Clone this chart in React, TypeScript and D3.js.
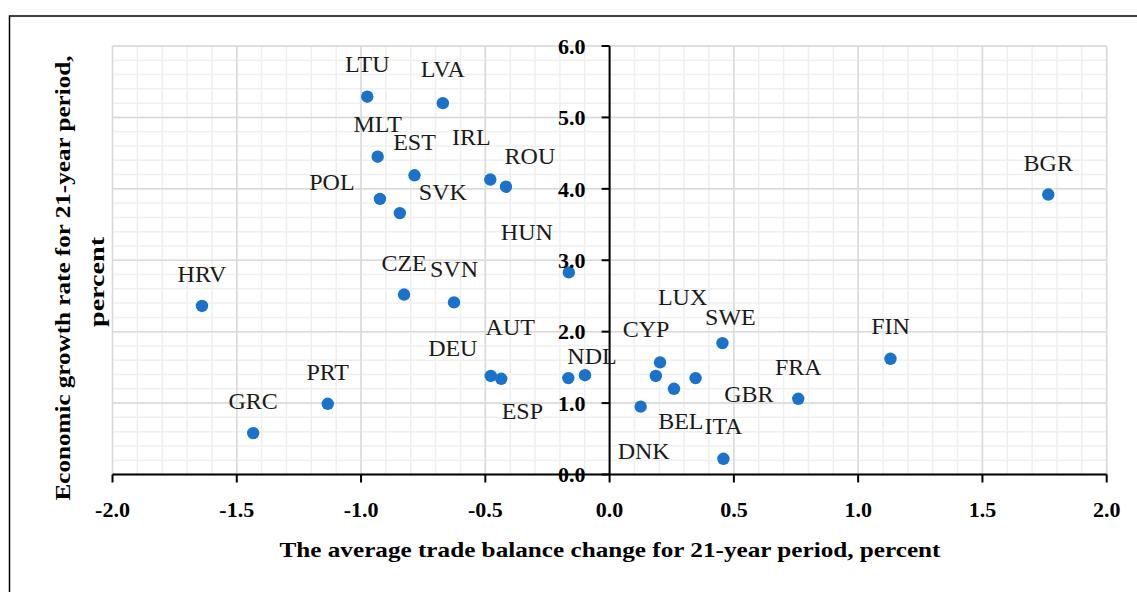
import React from "react";
import * as d3 from "d3";

const countries = ["LTU","LVA","MLT","EST","IRL","ROU","POL","SVK","HUN","CZE","SVN","HRV","BGR","AUT","DEU","NDL","ESP","CYP","LUX","SWE","FIN","FRA","GBR","BEL","ITA","DNK","PRT","GRC"];
const tradeBalanceChange = [-0.975,-0.671,-0.933,-0.785,-0.480,-0.417,-0.924,-0.844,-0.164,-0.827,-0.626,-1.640,1.765,-0.436,-0.478,-0.099,-0.166,0.203,0.346,0.454,1.130,0.759,0.259,0.186,0.458,0.125,-1.134,-1.434];
const growthRate = [5.29,5.20,4.45,4.19,4.13,4.03,3.86,3.66,2.83,2.52,2.41,2.36,3.92,1.34,1.38,1.39,1.35,1.57,1.35,1.84,1.62,1.06,1.20,1.38,0.22,0.95,0.99,0.58];

const xTickValues = [-2.0,-1.5,-1.0,-0.5,0.0,0.5,1.0,1.5,2.0];
const yTickValues = [0,1,2,3,4,5,6];

const xTitle = "The average trade balance change for 21-year period, percent";
const yTitleLines = ["Economic growth rate for 21-year period,", "percent"];

// label placement offsets (pixels, relative to point) — layout only
const labelOffsets: Record<string, [number, number]> = {
  LTU:[0,-25], LVA:[0,-26], MLT:[0,-25], EST:[0,-25], IRL:[-19,-35], ROU:[24,-23],
  POL:[-48,-9], SVK:[43,-13], HUN:[-42,-32], CZE:[0,-24], SVN:[0,-25], HRV:[0,-24],
  BGR:[0,-24], AUT:[9,-44], DEU:[-38,-20], NDL:[7,-11], ESP:[-46,41], CYP:[-14,-25],
  LUX:[-13,-73], SWE:[8,-18], FIN:[0,-25], FRA:[0,-24], GBR:[75,13], BEL:[25,53],
  ITA:[0,-25], DNK:[3,52], PRT:[0,-24], GRC:[0,-24],
};

const W = 1137, H = 592;
const serif = "'Liberation Serif', 'Times New Roman', serif";

export default function App() {
  const x = d3.scaleLinear().domain([-2, 2]).range([112.5, 1106.7]);
  const y = d3.scaleLinear().domain([0, 6]).range([474.5, 46]);
  const xMinor = d3.range(-20, 21).map((i) => i / 10);
  const yMinor = d3.range(0, 31).map((i) => i / 5);
  const x0 = x(0), y0 = y(0);
  const pts = countries.map((c, i) => ({ c, xv: tradeBalanceChange[i], yv: growthRate[i] }));

  return (
    <svg width={W} height={H} style={{ position: "absolute", left: 0, top: 0, background: "#fff" }}>
      <rect x={0} y={0} width={W} height={H} fill="#fff" />
      <rect x={9.5} y={16} width={1200} height={700} fill="none" stroke="#000" strokeWidth={1.5} />
      {/* minor grid */}
      <g stroke="#efefef" strokeWidth={1.5}>
        {xMinor.map((v) => (
          <line key={"xm" + v} x1={x(v)} x2={x(v)} y1={y(6)} y2={y(0)} />
        ))}
        {yMinor.map((v) => (
          <line key={"ym" + v} x1={x(-2)} x2={x(2)} y1={y(v)} y2={y(v)} />
        ))}
      </g>
      {/* major grid */}
      <g stroke="#d9d9d9" strokeWidth={1.5}>
        {xTickValues.map((v) => (
          <line key={"xg" + v} x1={x(v)} x2={x(v)} y1={y(6)} y2={y(0)} />
        ))}
        {yTickValues.map((v) => (
          <line key={"yg" + v} x1={x(-2)} x2={x(2)} y1={y(v)} y2={y(v)} />
        ))}
      </g>
      {/* axes */}
      <g stroke="#000" strokeWidth={2}>
        <line x1={x(-2)} x2={x(2)} y1={y0} y2={y0} />
        <line x1={x0} x2={x0} y1={y(0)} y2={y(6)} />
        {xTickValues.map((v) => (
          <line key={"xt" + v} x1={x(v)} x2={x(v)} y1={y0} y2={y0 + 8} />
        ))}
        {yTickValues.map((v) => (
          <line key={"yt" + v} x1={x0 - 8} x2={x0} y1={y(v)} y2={y(v)} />
        ))}
      </g>
      {/* points */}
      <g fill="#1a73c8">
        {pts.map((p) => (
          <circle key={p.c} cx={x(p.xv)} cy={y(p.yv)} r={6.2} />
        ))}
      </g>
      {/* labels */}
      <g fontFamily={serif} fontSize={24} fill="#1a1a1a" textAnchor="middle">
        {pts.map((p) => {
          const o = labelOffsets[p.c] || [0, -24];
          return (
            <text key={"l" + p.c} x={x(p.xv) + o[0]} y={y(p.yv) + o[1]}>
              {p.c}
            </text>
          );
        })}
      </g>
      {/* tick labels */}
      <g fontFamily={serif} fontSize={22} fontWeight="bold" fill="#000">
        {yTickValues.map((v) => (
          <text key={"yl" + v} x={x0 - 24} y={y(v)} dy="0.35em" textAnchor="end">
            {d3.format(".1f")(v)}
          </text>
        ))}
        {xTickValues.map((v) => (
          <text key={"xl" + v} x={x(v)} y={y0 + 42} textAnchor="middle">
            {d3.format(".1f")(v).replace("−", "-")}
          </text>
        ))}
      </g>
      {/* axis titles */}
      <text x={610} y={557} textAnchor="middle" fontFamily={serif} fontSize={21} fontWeight="bold"
        textLength={661} lengthAdjust="spacingAndGlyphs">
        {xTitle}
      </text>
      <g fontFamily={serif} fontSize={22} fontWeight="bold" textAnchor="middle">
        <text transform={`translate(70,278) rotate(-90)`} textLength={445} lengthAdjust="spacingAndGlyphs">{yTitleLines[0]}</text>
        <text transform={`translate(104,282) rotate(-90)`} textLength={90} lengthAdjust="spacingAndGlyphs">{yTitleLines[1]}</text>
      </g>
    </svg>
  );
}
